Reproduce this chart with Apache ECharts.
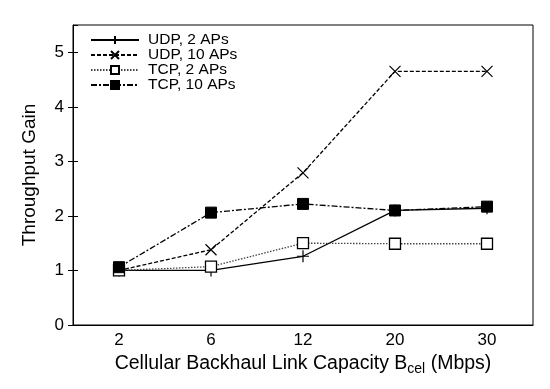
<!DOCTYPE html>
<html><head><meta charset="utf-8">
<script src="https://cdn.jsdelivr.net/npm/echarts@6/dist/echarts.min.js"></script>
<style>html,body{margin:0;padding:0;background:#fff}#c{width:550px;height:389px}</style>
</head><body><div id="c"></div>
<script>
const categories = ['2', '6', '12', '20', '30'];
const udp2 = [1.0, 1.0, 1.26, 2.1, 2.14];
const udp10 = [1.0, 1.38, 2.79, 4.65, 4.65];
const tcp2 = [1.0, 1.07, 1.5, 1.49, 1.49];
const tcp10 = [1.06, 2.06, 2.22, 2.1, 2.17];
const seriesNames = ['UDP, 2 APs', 'UDP, 10 APs', 'TCP, 2 APs', 'TCP, 10 APs'];

const font = 'Liberation Sans, Arial, Helvetica, sans-serif';
const chart = echarts.init(document.getElementById('c'), null, {renderer: 'canvas'});
const plusPath = 'path://M0,-6L0,6M-6,0L6,0';
const xPath = 'path://M-5,-5L5,5M-5,5L5,-5';
function mk(name, data, symbol, size, lineType, itemStyle, lineColor) {
  return {
    name, type: 'line', data, symbol, symbolSize: size, showAllSymbol: true,
    xAxisIndex: 0, yAxisIndex: 0,
    lineStyle: {color: lineColor || '#000', width: 1.3, type: lineType},
    itemStyle, emphasis: {disabled: true}, animation: false
  };
}
chart.setOption({
  animation: false,
  textStyle: {fontFamily: font},
  grid: {left: 73, right: 17, top: 25, bottom: 64, show: true, borderColor: '#000', borderWidth: 1},
  legend: {
    left: 90, top: 32, padding: 0, orient: 'vertical', itemWidth: 48, itemHeight: 10, itemGap: -1,
    textStyle: {fontFamily: font, fontSize: 15.5, color: '#000', lineHeight: 14, padding: [0, 0, 0, 4]},
    data: seriesNames
  },
  xAxis: [{
    type: 'category', data: categories, boundaryGap: true,
    axisLine: {lineStyle: {color: '#000', width: 1}},
    axisTick: {alignWithLabel: true, length: 5, lineStyle: {color: '#000'}},
    axisLabel: {color: '#000', fontSize: 17, fontFamily: font, margin: 7},
    name: '{a|Cellular Backhaul Link Capacity B}{s|cel}{a| (Mbps)}',
    nameLocation: 'middle', nameGap: 26,
    nameTextStyle: {rich: {
      a: {fontSize: 19.5, fontFamily: font, color: '#000'},
      s: {fontSize: 14, fontFamily: font, color: '#000', verticalAlign: 'bottom', padding: [11, 0, 0, 0]}
    }}
  }, {
    type: 'category', data: categories, boundaryGap: true, position: 'bottom',
    axisLine: {show: false},
    axisTick: {alignWithLabel: true, inside: true, length: 5, lineStyle: {color: '#000'}},
    axisLabel: {show: false}
  }],
  yAxis: [{
    type: 'value', min: 0, max: 5.5, interval: 1,
    splitLine: {show: false},
    axisLine: {show: true, lineStyle: {color: '#000', width: 1}},
    axisTick: {show: true, length: 5, lineStyle: {color: '#000'}},
    axisLabel: {color: '#000', fontSize: 17, fontFamily: font, margin: 9, showMaxLabel: false},
    name: 'Throughput Gain', nameLocation: 'middle', nameGap: 34,
    nameTextStyle: {fontSize: 19, fontFamily: font, color: '#000'}
  }, {
    type: 'value', min: 0, max: 5.5, interval: 1, position: 'left',
    splitLine: {show: false},
    axisLine: {show: false},
    axisTick: {show: true, inside: true, length: 5, lineStyle: {color: '#000'}},
    axisLabel: {show: false, showMaxLabel: false}
  }],
  series: [
    mk(seriesNames[0], udp2, plusPath, 12, 'solid', {color: '#000', borderColor: '#000', borderWidth: 1.2}),
    mk(seriesNames[1], udp10, xPath, 11, [4, 2], {color: '#000', borderColor: '#000', borderWidth: 1.2}),
    mk(seriesNames[2], tcp2, 'rect', 11, [1.5, 1.5], {color: '#fff', borderColor: '#000', borderWidth: 1.3}, '#444'),
    mk(seriesNames[3], tcp10, 'rect', 11, [6, 2, 2, 2], {color: '#000', borderColor: '#000', borderWidth: 1})
  ]
});
</script></body></html>
